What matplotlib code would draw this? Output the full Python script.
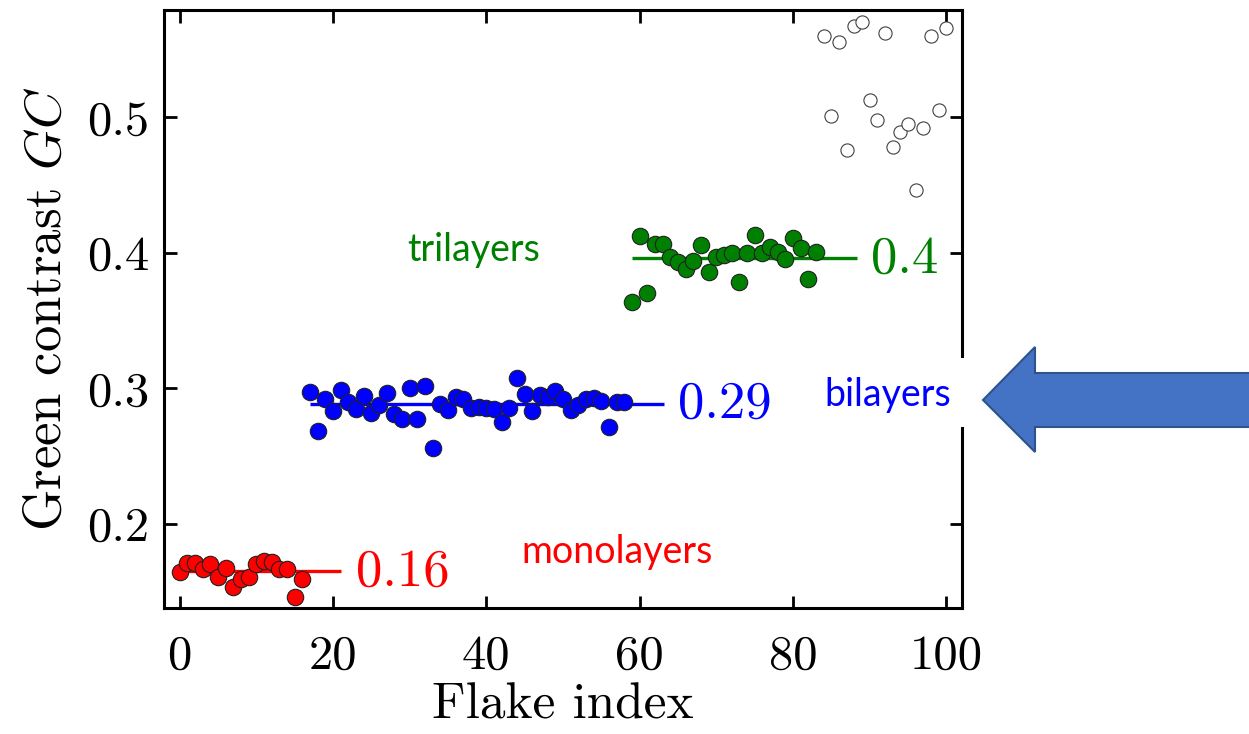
import numpy as np
import matplotlib
matplotlib.use("Agg")
import matplotlib.pyplot as plt
from matplotlib.patches import Polygon, Rectangle

plt.rcParams['font.family'] = 'cmr10'
plt.rcParams['mathtext.fontset'] = 'cm'
plt.rcParams['axes.formatter.use_mathtext'] = True

# flake contrast values
mono_gc = [0.1645, 0.171, 0.171, 0.1667, 0.170, 0.161, 0.1674, 0.153, 0.159,
           0.1608, 0.170, 0.1723, 0.1716, 0.1667, 0.1667, 0.146, 0.159]
bi_gc = [0.2976, 0.2686, 0.292, 0.2829, 0.2988, 0.290, 0.285, 0.2944, 0.2814,
         0.2875, 0.2968, 0.2809, 0.2772, 0.300, 0.2772, 0.3017, 0.2557, 0.2882,
         0.2838, 0.2936, 0.292, 0.2858, 0.2863, 0.2858, 0.285, 0.2752, 0.2853,
         0.3079, 0.2961, 0.2833, 0.2949, 0.2936, 0.298, 0.2924, 0.2838, 0.2877,
         0.2924, 0.2931, 0.2907, 0.2711, 0.2902, 0.2895]
tri_gc = [0.3635, 0.4127, 0.3704, 0.4064, 0.4064, 0.3968, 0.3932, 0.3882, 0.3941,
          0.4059, 0.3858, 0.3968, 0.398, 0.4002, 0.3785, 0.4002, 0.4132, 0.4002,
          0.4042, 0.4005, 0.3956, 0.4108, 0.4035, 0.3807, 0.4005]
other_gc = [0.5603, 0.5007, 0.5554, 0.4762, 0.5676, 0.5701, 0.513, 0.4978, 0.5623,
            0.4782, 0.4892, 0.4949, 0.4463, 0.4924, 0.5598, 0.5057, 0.566]

mono_x = np.arange(0, 17)
bi_x = np.arange(17, 59)
tri_x = np.arange(59, 84)
other_x = np.arange(84, 101)

# mean lines: (value, x start, x end)
mono_mean = (0.165, 0, 21)
bi_mean = (0.2887, 17, 63.2)
tri_mean = (0.396, 59, 88.4)

fig = plt.figure(figsize=(12.49, 7.34), dpi=100)
ax = fig.add_axes([0.131, 0.172, 0.639, 0.814])

ax.scatter(mono_x, mono_gc, s=140, c='#FF0000', edgecolors='#202020', linewidths=0.8, zorder=3)
ax.scatter(bi_x, bi_gc, s=140, c='#0000FF', edgecolors='#202020', linewidths=0.8, zorder=3)
ax.scatter(tri_x, tri_gc, s=140, c='#008000', edgecolors='#202020', linewidths=0.8, zorder=3)
ax.scatter(other_x, other_gc, s=90, c='white', edgecolors='#404040', linewidths=0.8, zorder=3)

ax.hlines(mono_mean[0], mono_mean[1], mono_mean[2], colors='#FF0000', lw=2.4, zorder=2)
ax.hlines(bi_mean[0], bi_mean[1], bi_mean[2], colors='#0000FF', lw=2.4, zorder=2)
ax.hlines(tri_mean[0], tri_mean[1], tri_mean[2], colors='#008000', lw=2.4, zorder=2)

ax.text(23.0, 0.164, '0.16', color='#FF0000', fontsize=38, va='center', ha='left')
ax.text(65.0, 0.288, '0.29', color='#0000FF', fontsize=38, va='center', ha='left')
ax.text(90.2, 0.395, '0.4', color='#008000', fontsize=38, va='center', ha='left')

ax.text(38.4, 0.402, 'trilayers', color='#008000', fontsize=27, family='Lato', ha='center', va='center')
ax.text(57.0, 0.1794, 'monolayers', color='#FF0000', fontsize=27, family='Lato', ha='center', va='center')

ax.set_xlim(-2.1, 102)
ax.set_ylim(0.138, 0.579)
ax.set_xticks([0, 20, 40, 60, 80, 100])
ax.set_yticks([0.2, 0.3, 0.4, 0.5])
ax.set_xticklabels(['0', '20', '40', '60', '80', '100'])
ax.set_yticklabels(['0.2', '0.3', '0.4', '0.5'])
ax.tick_params(direction='in', length=9, width=2, labelsize=35, top=True, right=True, pad=10)
ax.tick_params(axis='x', pad=19)
for sp in ax.spines.values():
    sp.set_linewidth(2.2)

ax.set_xlabel('Flake index', fontsize=37, labelpad=3)
ax.set_ylabel('Green contrast $GC$', fontsize=38, labelpad=12)

# white box behind the "bilayers" note, covering the right frame
W, H = 1249, 734
fig.patches.append(Rectangle((815 / W, 1 - 427 / H), 155 / W, 69 / H,
                             transform=fig.transFigure, facecolor='white',
                             edgecolor='none', zorder=5))
fig.text(888 / W, 1 - 395 / H, 'bilayers', color='#0000FF', fontsize=27,
         family='Lato', ha='center', va='center', zorder=6)

# big block arrow pointing at the plot
pts = [(983, 400), (1035, 347), (1035, 373), (1260, 373),
       (1260, 427), (1035, 427), (1035, 452)]
fig.patches.append(Polygon([(x / W, 1 - y / H) for x, y in pts], closed=True,
                           transform=fig.transFigure, facecolor='#4472C4',
                           edgecolor='#2F528F', linewidth=1.5, zorder=6))

fig.savefig('out.png', dpi=100)
